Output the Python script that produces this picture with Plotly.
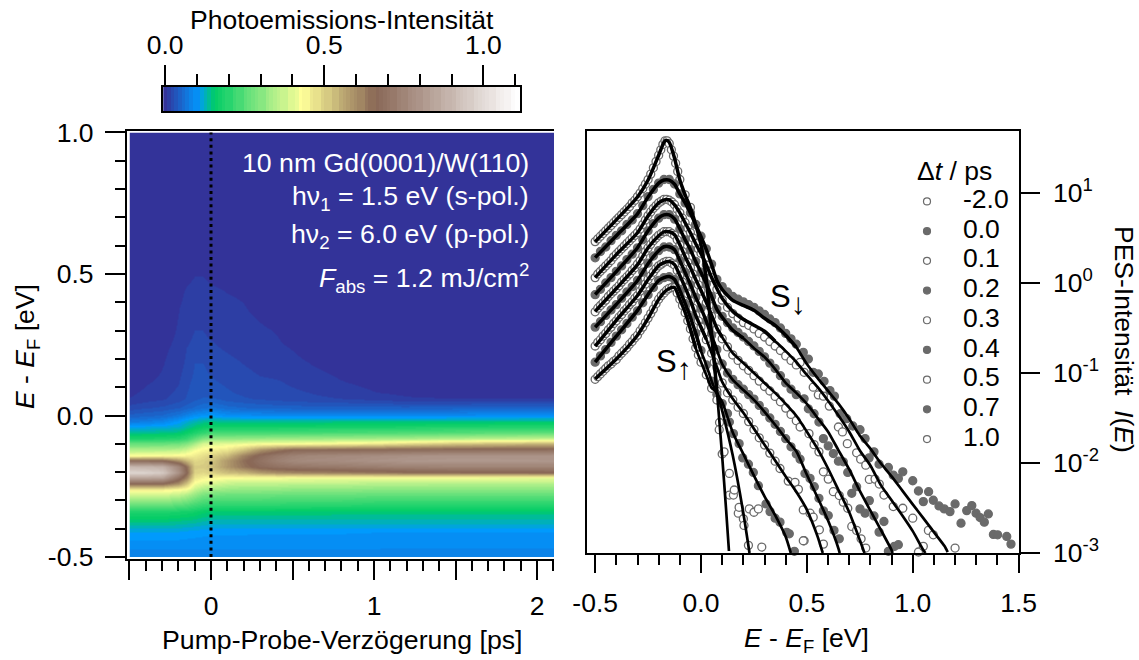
import numpy as np
import plotly.graph_objects as go

W, H = 1139, 660
FONT = "Liberation Sans"
FS = 26.5

# ---------- left panel: heatmap ----------
DELAY = [-.5,-.4,-.3,-.2,-.15,-.1,-.05,0,.1,.2,.3,.4,.5,.6,.8,1.0,1.2,1.5,2.1]
ENERGY = [1.0,.56,.50,.44,.38,.30,.24,.18,.12,.08,.06,.03,0,-.02,-.04,-.06,-.08,-.10,-.12,-.14,
          -.16,-.18,-.20,-.22,-.24,-.26,-.28,-.31,-.34,-.37,-.41,-.46,-.50]
HEAT_MILLI = [
 [0]*19,
 [0]*19,
 [0,0,0,2,8,11,11,9,8,6,3,0,0,0,0,0,0,0,0],
 [0,0,0,8,13,15,15,13,11,10,6,3,1,0,0,0,0,0,0],
 [0,0,2,11,15,17,17,16,14,12,9,6,3,1,0,0,0,0,0],
 [0,0,5,13,18,23,23,20,17,15,13,11,7,4,0,0,0,0,0],
 [0,0,9,15,23,27,27,25,21,18,15,13,11,8,2,0,0,0,0],
 [0,3,11,18,26,35,35,31,27,23,19,17,14,12,6,2,0,0,0],
 [3,10,14,22,32,37,38,36,32,29,25,24,21,18,12,7,4,1,0],
 [9,14,18,26,34,40,42,41,36,32,29,27,25,23,18,12,9,5,4],
 [12,17,21,29,36,43,47,48,40,36,33,30,28,26,23,18,13,12,12],
 [28,33,37,45,52,60,66,72,62,58,55,53,52,51,50,50,50,52,55],
 [50,55,60,75,88,100,105,110,100,98,96,95,95,95,95,95,95,97,100],
 [78,82,90,110,125,135,145,150,148,148,148,148,148,148,150,150,150,152,155],
 [112,115,118,125,140,155,165,175,175,175,176,176,177,178,180,182,185,190,195],
 [145,147,150,155,170,190,210,230,230,232,232,234,234,236,238,240,242,250,260],
 [190,190,192,200,220,260,300,320,320,322,325,328,330,332,335,338,342,355,370],
 [270,270,272,280,300,340,390,400,405,415,425,430,432,435,450,465,490,520,550],
 [350,350,352,360,380,420,440,450,470,520,590,630,665,670,670,675,680,685,690],
 [430,435,437,440,450,460,480,500,540,620,680,720,745,760,770,780,790,800,800],
 [680,680,670,600,540,490,500,520,590,650,700,740,765,775,780,795,805,810,805],
 [900,890,880,760,650,510,510,530,590,640,680,700,710,715,725,735,745,750,750],
 [985,980,950,790,670,500,490,500,530,545,580,600,610,615,625,635,645,655,660],
 [850,850,840,700,620,470,450,440,430,425,425,425,422,422,420,420,420,415,410],
 [665,665,660,600,520,420,400,390,370,365,365,365,360,360,360,355,355,350,350],
 [450,450,450,430,420,370,340,330,320,315,315,315,310,310,310,305,305,305,305],
 [385,385,385,370,350,320,290,280,275,275,275,270,270,270,270,265,265,265,265],
 [285,285,285,270,260,240,225,215,215,215,215,215,210,210,210,205,205,205,205],
 [190,190,190,185,180,175,165,160,160,160,160,158,158,158,156,156,155,155,155],
 [156,156,155,150,148,145,140,135,135,135,135,135,135,135,135,135,135,135,135],
 [115,115,115,115,112,110,108,106,106,106,105,105,105,105,105,104,104,104,104],
 [95]*19,
 [85,85,85,85,85,85,85,85,85,85,85,85,85,85,85,83,82,80,80],
]

# colour table: value, colour
CMAX = 1.115
COLOR_VALS = [0.0, 0.104, 0.156, 0.43, 0.665, 1.115]
COLOR_RGB = [(51,51,153),(0,153,255),(0,204,102),(255,255,153),(136,102,85),(255,255,255)]
N_LEVELS = 97

def stepped_scale():
    scale = []
    for i in range(N_LEVELS):
        v = i / (N_LEVELS - 1) * CMAX
        rgb = [np.interp(v, COLOR_VALS, [c[k] for c in COLOR_RGB]) for k in range(3)]
        col = "rgb(%d,%d,%d)" % tuple(int(round(c)) for c in rgb)
        scale.append([i / N_LEVELS, col])
        scale.append([(i + 1) / N_LEVELS, col])
    return scale
SCALE = stepped_scale()

# ---------- right panel: fits (log10 intensity) ----------
FIT_E = [-.5,-.4,-.3,-.25,-.2,-.175,-.15,-.125,-.1,-.075,-.05,-.025,0,.025,.05,.075,.1,
         .15,.2,.25,.3,.35,.4,.45,.5,.55,.6,.65,.7,.75,.8,.85,.9,.95,1.0,1.05,1.1,1.15]
FIT_A_E = [-.5,-.4,-.3,-.25,-.2,-.175,-.165,-.15,-.125,-.1,-.075,-.05,-.025,0,.025,.05,.075,.1,.118,.132]
FIT_A = [.459,.702,.956,1.144,1.420,1.564,1.586,1.564,1.387,1.144,.978,.834,.646,.425,.039,-.569,-1.199,-1.928,-2.503,-2.978]
FIT_B = [.282,.525,.768,.956,1.110,1.144,1.144,1.099,.989,.890,.779,.646,.514,.370,.204,.028,-.072,-.193,-.249,-.304,-.392,-.470,-.580,-.713,-.901,-1.055,-1.199,-1.343,-1.508,-1.696,-1.840,-2.006,-2.149,-2.304,-2.459,-2.613,-2.768,-2.923]
FIT_B_END = (1.165, -2.99)
FIT_C = [.061,.315,.558,.746,.890,.923,.923,.867,.779,.669,.558,.436,.326,.204,.061,-.061,-.171,-.315,-.403,-.470,-.536,-.646,-.757,-.878,-1.022,-1.155,-1.309,-1.475,-1.652,-1.862,-2.028,-2.249,-2.414,-2.580,-2.757,-2.967]
FIT_C_END = (1.06, -3.0)
FIT_D = [-.127,.127,.392,.580,.724,.757,.757,.713,.602,.481,.370,.238,.116,-.006,-.149,-.293,-.381,-.525,-.613,-.724,-.823,-.956,-1.110,-1.221,-1.343,-1.497,-1.652,-1.862,-2.072,-2.310,-2.530,-2.746,-2.967]
FIT_D_END = (.905, -3.0)
FIT_E3 = [-.315,-.061,.204,.392,.525,.569,.569,.536,.425,.293,.171,.039,-.083,-.215,-.359,-.503,-.602,-.779,-.890,-1.0,-1.110,-1.221,-1.343,-1.475,-1.652,-1.840,-2.061,-2.304,-2.547,-2.856]
FIT_E3_END = (.772, -3.0)
FIT_F = [-.492,-.238,.028,.215,.359,.403,.403,.370,.249,.116,-.017,-.160,-.282,-.425,-.591,-.746,-.901,-1.077,-1.188,-1.298,-1.431,-1.575,-1.729,-1.870,-2.130,-2.380,-2.640,-2.956]
FIT_F_END = (.655, -3.0)
FIT_G = [-.702,-.414,-.138,.039,.193,.227,.238,.204,.083,-.050,-.193,-.359,-.492,-.624,-.779,-.934,-1.099,-1.287,-1.442,-1.619,-1.796,-1.972,-2.149,-2.320,-2.520,-2.812]
FIT_G_END = (.575, -3.0)
FIT_H = [-.878,-.591,-.304,-.127,.028,.061,.072,.039,-.083,-.227,-.381,-.558,-.757,-.912,-1.088,-1.232,-1.320,-1.660,-1.900,-2.140,-2.370,-2.580,-2.820]
FIT_H_END = (.424, -3.0)
FIT_I = [-1.066,-.845,-.580,-.392,-.182,-.105,-.061,-.050,-.182,-.326,-.514,-.724,-.878,-1.022,-1.166,-1.210,-1.420,-1.917,-2.558]
FIT_I_END = (.229, -3.0)

# ---------- right panel: data points (log10 intensity), dense part on a 0.025 eV grid ----------
MARK_E = [round(-.5 + .025 * i, 3) for i in range(39)]
HALF_E = [round(-.4875 + .025 * i, 4) for i in range(20)]
PTS_A_E = [-.5,-.475,-.45,-.425,-.4,-.375,-.35,-.325,-.3,-.275,-.25,-.225,-.2,-.19,-.18,-.17,-.16,-.15,-.14,-.13,-.12,-.11,-.1,-.075,-.05,-.025,0,.025,.0375,.05,.0625,.075,.0875,.1]
PTS_A = [.46,.52,.58,.64,.70,.76,.82,.89,.96,1.05,1.15,1.28,1.42,1.48,1.54,1.58,1.58,1.55,1.48,1.41,1.33,1.24,1.15,.98,.84,.65,.43,.05,-.25,-.56,-.88,-1.20,-1.55,-1.90]
PTS_A_HALF = [.49,.55,.61,.67,.73,.79,.85,.92,1.0,1.10,1.21,1.35]
PTS_B = [.28,.35,.40,.47,.53,.58,.65,.70,.77,.86,.96,1.04,1.11,1.15,1.15,1.10,.99,.89,.78,.65,.52,.38,.21,.04,-.04,-.10,-.15,-.18,-.21,-.24,-.27,-.31,-.35,-.40,-.44,-.50,-.56,-.62,-.68]
PTS_B_TAIL_E = [.483,.507,.530,.554,.581,.609,.630,.657,.688,.717,.751,.775,.817,.794,.841,.885,.908,.932,.953,1.0,1.027,1.075,1.050,1.097,1.124,1.149,1.176,1.200,1.228,1.255,1.279,1.299,1.318,1.338,1.357,1.381,1.401,1.444,1.464]
PTS_B_TAIL = [-.771,-.845,-.992,-1.011,-1.092,-1.195,-1.257,-1.453,-1.508,-1.589,-1.630,-1.729,-1.876,-1.943,-2.013,-2.050,-2.135,-2.171,-2.098,-2.197,-2.311,-2.319,-2.429,-2.414,-2.477,-2.510,-2.540,-2.455,-2.669,-2.529,-2.473,-2.558,-2.606,-2.657,-2.566,-2.794,-2.798,-2.816,-2.901]
PTS_C = [.06,.13,.19,.25,.32,.38,.44,.50,.56,.65,.75,.83,.89,.93,.92,.87,.78,.67,.56,.44,.33,.20,.06,-.07,-.19,-.27,-.34,-.39,-.44,-.47,-.51,-.56,-.60,-.65,-.70,-.75,-.81,-.86,-.91]
PTS_C_HALF = [.10,.16,.22,.29,.35,.41,.47,.53,.60,.70,.79,.86,.91,.93,.90,.82,.72,.61,.50,.38]
PTS_C_TAIL_E = [.468,.487,.530,.554,.578,.606,.649,.668,.691,.735,.754,.778,.795,.822,.842,.864,.908,.953,1.0,1.050,1.074,1.097,1.200,1.027]
PTS_C_TAIL = [-.882,-.992,-1.158,-1.243,-1.257,-1.368,-1.600,-1.655,-1.785,-1.887,-1.958,-2.024,-2.182,-2.179,-2.234,-2.356,-2.484,-2.503,-2.613,-2.926,-2.749,-2.798,-2.945,-2.989]
PTS_D = [-.13,-.07,0,.06,.13,.19,.26,.32,.39,.48,.58,.66,.72,.76,.76,.71,.60,.48,.37,.24,.12,-.01,-.15,-.29,-.37,-.44,-.50,-.55,-.60,-.65,-.70,-.76,-.82,-.89,-.95,-1.03,-1.11,-1.18,-1.24]
PTS_D_TAIL_E = [.487,.507,.534,.557,.578,.601,.625,.649,.672,.693,.712,.735,.751,.775,.795,.817,.841,.864,.885,.913,.932]
PTS_D_TAIL = [-1.287,-1.398,-1.453,-1.545,-1.729,-1.810,-1.895,-1.980,-1.987,-2.105,-2.337,-2.263,-2.510,-2.558,-2.418,-2.588,-2.768,-2.650,-2.981,-2.926,-2.908]
PTS_E = [-.32,-.25,-.19,-.12,-.06,.01,.07,.14,.21,.30,.39,.47,.53,.57,.57,.53,.42,.29,.17,.04,-.09,-.22,-.37,-.51,-.62,-.71,-.80,-.86,-.92,-.97,-1.03,-1.09,-1.15,-1.20,-1.26,-1.32,-1.39,-1.46,-1.53]
PTS_E_HALF = [-.28,-.22,-.15,-.09,-.03,.04,.10,.17,.25,.35,.43,.50,.55,.57,.55,.48,.35,.23,.10,-.02]
PTS_E_TAIL_E = [.468,.510,.534,.557,.578,.601,.625,.653,.672,.693,.712,.735,.756,.778]
PTS_E_TAIL = [-1.600,-1.674,-1.796,-1.876,-2.098,-2.179,-2.319,-2.362,-2.436,-2.503,-2.705,-2.749,-2.842,-2.945]
PTS_F = [-.49,-.43,-.36,-.30,-.24,-.17,-.10,-.04,.03,.12,.22,.30,.36,.40,.40,.37,.25,.12,-.02,-.16,-.28,-.42,-.58,-.74,-.90,-1.00,-1.07,-1.13,-1.18,-1.24,-1.29,-1.36,-1.43,-1.50,-1.57,-1.65,-1.73,-1.82,-1.90]
PTS_F_TAIL_E = [.468,.491,.515,.535,.557,.578,.601,.628,.653]
PTS_F_TAIL = [-1.958,-2.116,-2.171,-2.263,-2.392,-2.532,-2.584,-2.749,-2.842]
PTS_G = [-.70,-.63,-.56,-.49,-.42,-.35,-.28,-.21,-.14,-.05,.04,.12,.19,.23,.24,.20,.08,-.05,-.20,-.36,-.49,-.63,-.78,-.94,-1.11,-1.22,-1.30,-1.38,-1.45,-1.54,-1.63,-1.72,-1.80,-1.89,-1.98]
PTS_G_HALF = [-.66,-.59,-.52,-.45,-.38,-.31,-.24,-.17,-.09,-.01,.08,.16,.21,.24,.22,.14,.01,-.12,-.28,-.42]
PTS_G_TAIL_E = [.373,.412,.444,.460,.483,.515,.530,.559,.578,.487]
PTS_G_TAIL = [-2.061,-2.201,-2.215,-2.293,-2.521,-2.558,-2.602,-2.742,-2.901,-2.864]
PTS_H = [-.88,-.81,-.74,-.66,-.59,-.52,-.45,-.38,-.31,-.22,-.13,-.05,.03,.06,.07,.04,-.08,-.23,-.38,-.56,-.75,-.91,-1.09,-1.24,-1.34,-1.45]
PTS_H_TAIL_E = [.134,.153,.180,.197,.224,.247,.271,.307,.326,.350,.373,.405,.417,.441]
PTS_H_TAIL = [-1.545,-1.674,-1.785,-1.943,-2.013,-2.105,-2.252,-2.455,-2.540,-2.613,-2.657,-2.771,-2.787,-2.981]
PTS_I = [-1.07,-1.01,-.95,-.90,-.85,-.78,-.72,-.65,-.58,-.49,-.39,-.29,-.18,-.11,-.06,-.05,-.18,-.33,-.51,-.72,-.88,-1.02,-1.17,-1.30]
PTS_I_HALF = [-1.04,-.98,-.92,-.87,-.81,-.75,-.68,-.61,-.53,-.44,-.34,-.23,-.14,-.08,-.05,-.11,-.25,-.42,-.62,-.80]
PTS_I_TAIL_E = [.086,.109,.134,.157,.134,.153,.180,.176,.200,.203,.228,.250,.271,.224,.287,.483]
PTS_I_TAIL = [-1.630,-1.876,-2.116,-2.300,-2.356,-2.356,-2.492,-2.558,-2.621,-2.694,-2.510,-2.547,-2.510,-2.915,-2.934,-2.864]

DT_LABELS = ["-2.0","0.0","0.1","0.2","0.3","0.4","0.5","0.7","1.0"]
FILLED = [False,True,False,True,False,True,False,True,False]

GREY = "#6a6a6a"

def px_x(a, b): return [a / W, b / W]
def px_y(top, bottom): return [1 - bottom / H, 1 - top / H]

fig = go.Figure()

z = np.array(HEAT_MILLI, float) / 1000
fig.add_trace(go.Heatmap(x=DELAY, y=ENERGY[::-1], z=z[::-1], colorscale=SCALE, zmin=0, zmax=CMAX,
                         zsmooth="best", showscale=False, hoverinfo="skip", xaxis="x", yaxis="y"))
fig.add_trace(go.Scatter(x=[0, 0], y=[-.5, 1.0], mode="lines", showlegend=False, hoverinfo="skip",
                         line=dict(color="black", width=3, dash="3px,3.6px"), xaxis="x2", yaxis="y2"))

CBAR = np.arange(0, CMAX, CMAX / N_LEVELS)
fig.add_trace(go.Heatmap(x=CBAR, y=[0, 1], z=[CBAR, CBAR], colorscale=SCALE, zmin=0, zmax=CMAX,
                         showscale=False, hoverinfo="skip", xaxis="x4", yaxis="y4"))

sets = [
    (PTS_A_E, PTS_A, PTS_A_HALF, [], []),
    (MARK_E, PTS_B, [], PTS_B_TAIL_E, PTS_B_TAIL),
    (MARK_E, PTS_C, PTS_C_HALF, PTS_C_TAIL_E, PTS_C_TAIL),
    (MARK_E, PTS_D, [], PTS_D_TAIL_E, PTS_D_TAIL),
    (MARK_E, PTS_E, PTS_E_HALF, PTS_E_TAIL_E, PTS_E_TAIL),
    (MARK_E, PTS_F, [], PTS_F_TAIL_E, PTS_F_TAIL),
    (MARK_E, PTS_G, PTS_G_HALF, PTS_G_TAIL_E, PTS_G_TAIL),
    (MARK_E, PTS_H, [], PTS_H_TAIL_E, PTS_H_TAIL),
    (MARK_E, PTS_I, PTS_I_HALF, PTS_I_TAIL_E, PTS_I_TAIL),
]
for lab, fil, (e, v, hv, te, tv) in zip(DT_LABELS, FILLED, sets):
    ex = list(e[:len(v)]) + HALF_E[:len(hv)] + list(te)
    vx = list(v) + list(hv) + list(tv)
    order = np.argsort(ex)
    fig.add_trace(go.Scatter(x=np.array(ex)[order], y=10 ** np.array(vx)[order], mode="markers", name=lab,
                             showlegend=False, cliponaxis=False, hoverinfo="skip",
                             marker=dict(size=8, symbol="circle", color=GREY if fil else "white",
                                         line=dict(color=GREY, width=1.3)),
                             xaxis="x3", yaxis="y3"))

fits = [
    (FIT_A_E, FIT_A, None),
    (FIT_E, FIT_B, FIT_B_END),
    (FIT_E, FIT_C, FIT_C_END),
    (FIT_E, FIT_D, FIT_D_END),
    (FIT_E, FIT_E3, FIT_E3_END),
    (FIT_E, FIT_F, FIT_F_END),
    (FIT_E, FIT_G, FIT_G_END),
    (FIT_E, FIT_H, FIT_H_END),
    (FIT_E, FIT_I, FIT_I_END),
]
for e, v, end in fits:
    ex = list(e[:len(v)])
    vx = list(v)
    if end:
        ex.append(end[0]); vx.append(end[1])
    vals = np.array(vx)
    cut = int(np.argmax((vals < -.6) & (np.array(ex) > -.2))) + 1
    for lo, hi, lw in ((0, cut, 3.5), (cut - 2, len(ex), 2.7)):
        fig.add_trace(go.Scatter(x=ex[lo:hi], y=10 ** vals[lo:hi], mode="lines", showlegend=False, hoverinfo="skip",
                                 line=dict(color="black", width=lw, shape="spline", smoothing=.6),
                                 xaxis="x3", yaxis="y3"))

fig.add_trace(go.Scatter(x=[.12] * 9, y=DT_LABELS, mode="markers", showlegend=False, hoverinfo="skip",
                         marker=dict(size=7, color=[GREY if f else "white" for f in FILLED],
                                     line=dict(color=GREY, width=1.2)),
                         xaxis="x5", yaxis="y5"))
fig.add_trace(go.Scatter(x=[.48] * 9, y=DT_LABELS, text=DT_LABELS, mode="text", textposition="middle right",
                         textfont=dict(family=FONT, size=FS, color="black"), showlegend=False, hoverinfo="skip",
                         xaxis="x5", yaxis="y5"))

LW = 2.4
tickfont = dict(family=FONT, size=FS, color="black")
hidden = dict(visible=False, showgrid=False, zeroline=False, automargin=False)
common = dict(showgrid=False, zeroline=False, showline=True, linecolor="black", linewidth=LW, automargin=False,
              ticks="outside", tickcolor="black", tickwidth=2, tickfont=tickfont)
minor_ticks = dict(dtick=.1, tick0=0, ticks="outside", ticklen=10, tickwidth=2, tickcolor="black")

def note(text, x, y, xanchor="center", color="black", size=FS, angle=0):
    return dict(text=text, xref="paper", yref="paper", x=x / W, y=1 - y / H, xanchor=xanchor, yanchor="middle",
                textangle=angle, showarrow=False, font=dict(family=FONT, size=size, color=color))

fig.update_layout(
    width=W, height=H, margin=dict(l=0, r=0, t=0, b=0), autosize=False,
    paper_bgcolor="white", plot_bgcolor="rgba(0,0,0,0)", showlegend=False,
    font=dict(family=FONT, size=FS, color="black"),
    xaxis=dict(domain=px_x(129.5, 554), range=[-.5, 2.104], anchor="y", **hidden),
    yaxis=dict(domain=px_y(132.5, 557), range=[-.5, 1.0], anchor="x", **hidden),
    xaxis2=dict(domain=px_x(127, 554), range=[-.5153, 2.104], anchor="y2", mirror=True,
                tickvals=[-.5, 0, .5, 1, 1.5, 2], ticktext=["", "0", "", "1", "", "2"], ticklen=19,
                minor=minor_ticks, ticklabelstandoff=3, **common),
    yaxis2=dict(domain=px_y(130.5, 559), range=[-.507, 1.007], anchor="x2",
                tickvals=[-.5, 0, .5, 1.0], ticktext=["-0.5", "0.0", "0.5", "1.0"], ticklen=20,
                minor=minor_ticks, ticklabelstandoff=6, **common),
    xaxis3=dict(domain=px_x(587, 1018.6), range=[-.5385, 1.5], anchor="y3", mirror=True,
                tickvals=[-.5, 0, .5, 1.0, 1.5], ticktext=["-0.5", "0.0", "0.5", "1.0", "1.5"], ticklen=18,
                minor=minor_ticks, ticklabelstandoff=7, **common),
    yaxis3=dict(domain=px_y(131, 553), range=[-3, 1.689], type="log", anchor="x3", side="right", mirror=True,
                tickvals=[1e-3, 1e-2, 1e-1, 1, 10],
                ticktext=["10<sup>-3</sup>", "10<sup>-2</sup>", "10<sup>-1</sup>", "10<sup>0</sup>", "10<sup>1</sup>"],
                ticklen=19, ticklabelstandoff=8, **common),
    xaxis4=dict(domain=px_x(163, 520), range=[-.0066, 1.115], anchor="y4", side="top", mirror=True,
                tickvals=[0, .5, 1.0], ticktext=["0.0", "0.5", "1.0"], ticklen=20,
                minor=dict(dtick=.1, tick0=0, ticks="outside", ticklen=11, tickwidth=2, tickcolor="black"),
                ticklabelstandoff=0, **common),
    yaxis4=dict(domain=px_y(87, 111), range=[0, 1], anchor="x4", showgrid=False, zeroline=False, showline=True,
                automargin=False, mirror=True, linecolor="black", linewidth=LW, ticks="", showticklabels=False),
    xaxis5=dict(domain=px_x(915, 1015), range=[0, 1], anchor="y5", **hidden),
    yaxis5=dict(domain=px_y(186.6, 453.9), type="category", categoryorder="array", categoryarray=DT_LABELS,
                range=[8.5, -.5], anchor="x5", **hidden),
    annotations=[
        note("10 nm Gd(0001)/W(110)", 531, 163, "right", "white", 26.7),
        note("hν<sub>1</sub> = 1.5 eV (s-pol.)", 531, 197.5, "right", "white", 26.7),
        note("hν<sub>2</sub> = 6.0 eV (p-pol.)", 531, 236, "right", "white", 26.7),
        note("<i>F</i><sub>abs</sub> = 1.2 mJ/cm<sup>2</sup>", 531, 278, "right", "white", 26.7),
        note("Δ<i>t</i> / ps", 915, 171, "left"),
        note("S<sub><span style='font-size:30px'>↓</span></sub>", 768, 299, "left", size=31),
        note("S<sub><span style='font-size:30px'>↑</span></sub>", 654, 365, "left", size=31),
        note("PES-Intensität  <i>I</i>(<i>E</i>)", 1124, 339, angle=90),
        note("Pump-Probe-Verzögerung [ps]", 341.5, 640, size=26.7),
        note("<i>E</i> - <i>E</i><sub>F</sub> [eV]", 806, 640),
        note("<i>E</i> - <i>E</i><sub>F</sub> [eV]", 27, 347, angle=-90),
        note("Photoemissions-Intensität", 342, 20),
    ],
)

fig.write_html("out.html", post_script="document.body.style.margin='0';",
               config=dict(displayModeBar=False))
